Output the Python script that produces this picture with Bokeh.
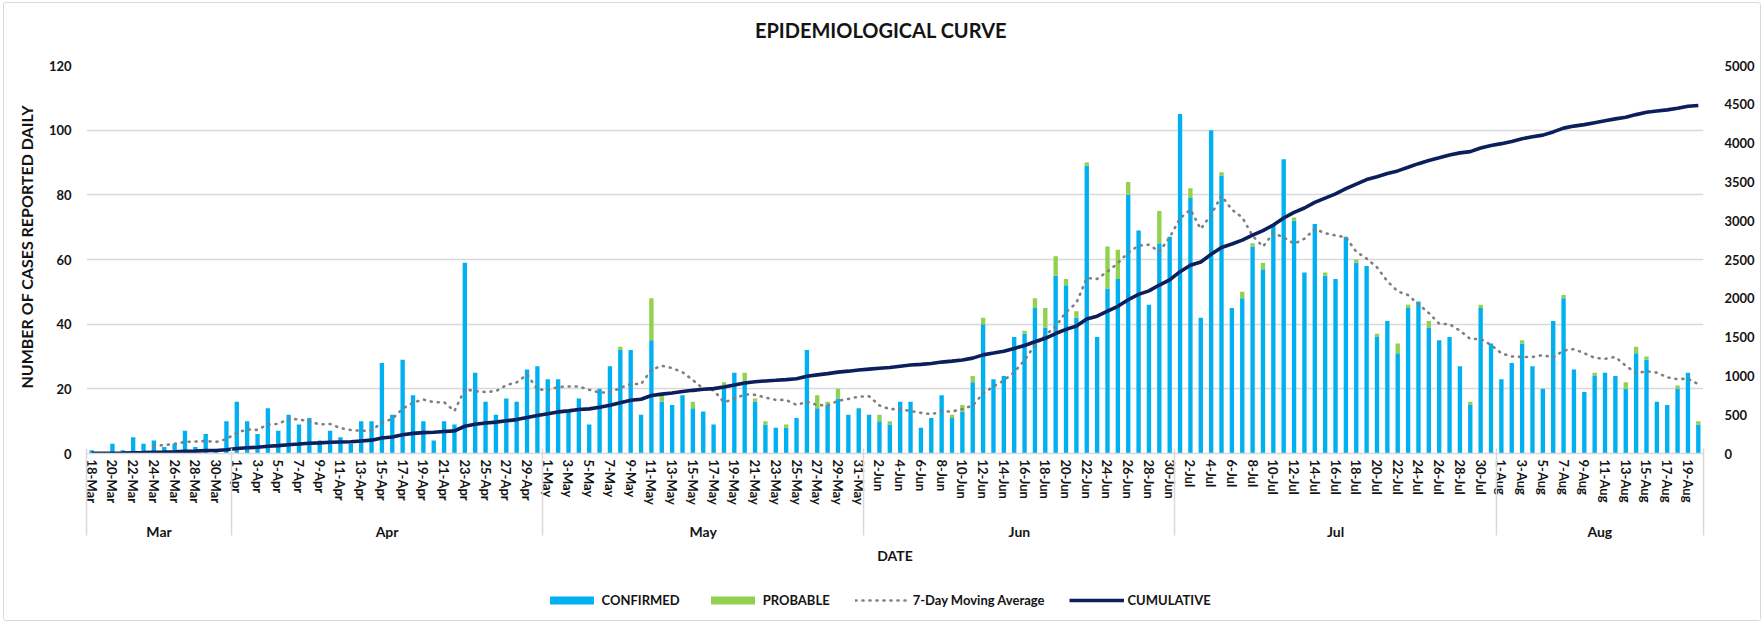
import numpy as np
import pandas as pd
from bokeh.plotting import figure
from bokeh.layouts import column
from bokeh.models import (ColumnDataSource, Range1d, LinearAxis, FixedTicker,
                          Legend, LegendItem, Label, Title)
from bokeh.embed import file_html
from bokeh.resources import INLINE

# ---------------- data ----------------
first_day = "2020-03-18"
last_day = "2020-08-20"
months = ["Mar", "Apr", "May", "Jun", "Jul", "Aug"]

confirmed = [
    1, 0, 3, 1, 5, 3, 4, 2, 3, 7, 2, 6, 1, 10,                       # 18-31 Mar
    16, 10, 6, 14, 7, 12, 9, 11, 4, 7, 5, 3, 10, 10, 28, 12, 29, 18,  # Apr
    10, 4, 10, 9, 59, 25, 16, 12, 17, 16, 26, 27,
    23, 23, 13, 17, 9, 20, 27, 32, 32, 12, 35, 16, 15, 18, 14, 13,    # May
    9, 21, 25, 22, 16, 9, 8, 8, 11, 32, 14, 15, 17, 12, 14,
    12, 10, 9, 16, 16, 8, 11, 18, 11, 13, 22, 40, 23, 24, 36, 37,     # Jun
    45, 39, 55, 52, 42, 89, 36, 51, 54, 80, 69, 46, 65, 67,
    105, 79, 42, 100, 86, 45, 48, 64, 57, 71, 91, 72, 56, 71, 55,     # Jul
    54, 67, 59, 58, 36, 41, 31, 45, 47, 39, 35, 36, 27, 15, 45, 34,
    23, 28, 34, 27, 20, 41, 48, 26, 19, 24, 25, 24, 20, 31, 29, 16,   # Aug
    15, 20, 25, 9,
]
probable = [
    0, 0, 0, 0, 0, 0, 0, 0, 0, 0, 0, 0, 0, 0,
    0, 0, 0, 0, 0, 0, 0, 0, 0, 0, 0, 0, 0, 0, 0, 0, 0, 0,
    0, 0, 0, 0, 0, 0, 0, 0, 0, 0, 0, 0,
    0, 0, 0, 0, 0, 0, 0, 1, 0, 0, 13, 2, 0, 0, 2, 0,
    0, 1, 0, 3, 1, 1, 0, 1, 0, 0, 4, 1, 3, 0, 0,
    0, 2, 1, 0, 0, 0, 0, 0, 1, 2, 2, 2, 0, 0, 0, 1,
    3, 6, 6, 2, 2, 1, 0, 13, 9, 4, 0, 0, 10, 0,
    0, 3, 0, 0, 1, 0, 2, 1, 2, 0, 0, 1, 0, 0, 1,
    0, 0, 1, 0, 1, 0, 3, 1, 0, 2, 0, 0, 0, 1, 1, 0,
    0, 0, 1, 0, 0, 0, 1, 0, 0, 1, 0, 0, 2, 2, 1, 0,
    0, 1, 0, 1,
]

# ---------------- derived ----------------
dates = pd.date_range(first_day, last_day, freq="D")
n = len(dates)
idx = np.arange(n)
total = np.array(confirmed) + np.array(probable)
ma7 = pd.Series(total, dtype=float).rolling(7).mean().to_numpy()
cumulative = np.cumsum(total)

day_labels = [f"{d.day}-{d.strftime('%b')}" for d in dates]
month_of = [d.strftime("%b") for d in dates]
month_start = [month_of.index(m) for m in months]
month_end = [n - 1 - month_of[::-1].index(m) for m in months]
month_centers = [(s + e) / 2 for s, e in zip(month_start, month_end)]
boundaries = [s - 0.5 for s in month_start] + [n - 0.5]

src = ColumnDataSource(dict(x=idx, confirmed=confirmed, probable=probable,
                            ma=ma7, cum=cumulative))

FONT = "Lato"
TXT = "#141414"
BLUE = "#00B0F0"
GREEN = "#92D050"
GRID = "#d9d9d9"
MA_COLOR = "#7f7f7f"
CUM_COLOR = "#0a1f5c"

# page geometry (chart-area border at x=3, y=2; content offset by margin+border)
OX, OY = 4, 3
CW = 1756            # content width
H0 = 40 - OY         # title strip   (page y 3 .. 40)
H1 = 540             # main chart    (page y 40 .. 580)
H2 = 40              # legend strip  (page y 580 .. 620)
FRAME_L, FRAME_R = 86 - OX, 1703 - OX   # in figure pixels
PAGE_FRAME_T, PAGE_FRAME_B = 65, 453


def strip(height):
    f = figure(width=CW, height=height, x_range=Range1d(0, 1), y_range=Range1d(0, 1),
               output_backend="svg", toolbar_location=None,
               x_axis_type=None, y_axis_type=None,
               min_border_left=FRAME_L, min_border_right=CW - FRAME_R,
               min_border_top=0, min_border_bottom=0)
    f.outline_line_color = None
    f.xgrid.visible = False
    f.ygrid.visible = False
    f.background_fill_color = "white"
    f.border_fill_color = "white"
    return f


# ---------------- title strip ----------------
tp = strip(H0)
tp.add_layout(Label(x=880.5 - 86, y=40 - 29, x_units="screen", y_units="screen",
                    text="EPIDEMIOLOGICAL CURVE", text_align="center",
                    text_baseline="middle", text_font=FONT, text_font_style="bold",
                    text_font_size="20px", text_color=TXT))

# ---------------- main chart ----------------
p = figure(width=CW, height=H1,
           x_range=Range1d(-0.5, n - 0.5), y_range=Range1d(0, 120),
           output_backend="svg", toolbar_location=None,
           min_border_left=FRAME_L, min_border_right=CW - FRAME_R,
           min_border_top=PAGE_FRAME_T - 40, min_border_bottom=580 - PAGE_FRAME_B)
p.extra_y_ranges = {"cum": Range1d(0, 5000)}

p.outline_line_color = None
p.background_fill_color = "white"
p.border_fill_color = "white"
p.xgrid.visible = False
p.ygrid.grid_line_color = GRID
p.ygrid.grid_line_width = 1.5

bars = p.vbar_stack(["confirmed", "probable"], x="x", width=0.42,
                    color=[BLUE, GREEN], line_width=0, source=src)
ma_line = p.line("x", "ma", source=src, line_color=MA_COLOR, line_width=2.6,
                 line_dash="1 6", line_cap="round")
cum_line = p.line("x", "cum", source=src, y_range_name="cum",
                  line_color=CUM_COLOR, line_width=3.6)

# left axis
yl = p.yaxis[0]
yl.ticker = FixedTicker(ticks=list(range(0, 121, 20)))
yl.major_label_text_font = FONT
yl.major_label_text_font_style = "bold"
yl.major_label_text_font_size = "13px"
yl.major_label_text_color = TXT
yl.major_label_standoff = 9
yl.axis_line_color = None
yl.major_tick_line_color = None
yl.minor_tick_line_color = None

# left axis title: text starts 65px above the frame bottom
p.add_layout(Title(text="NUMBER OF CASES REPORTED DAILY", align="left", offset=65,
                   vertical_align="middle", standoff=18, text_font=FONT,
                   text_font_style="bold", text_font_size="16px",
                   text_color=TXT), "left")

# right axis
yr = LinearAxis(y_range_name="cum", ticker=FixedTicker(ticks=list(range(0, 5001, 500))))
yr.major_label_text_font = FONT
yr.major_label_text_font_style = "bold"
yr.major_label_text_font_size = "13px"
yr.major_label_text_color = TXT
yr.major_label_standoff = 15
yr.axis_line_color = None
yr.major_tick_line_color = None
yr.minor_tick_line_color = None
p.add_layout(yr, "right")

# day axis
xa = p.xaxis[0]
even = list(range(0, n, 2))
xa.ticker = FixedTicker(ticks=even)
ov = {}
for i in even:
    ov[i] = day_labels[i]
xa.major_label_overrides = ov
xa.major_label_orientation = "vertical"
xa.major_label_text_font = FONT
xa.major_label_text_font_style = "bold"
xa.major_label_text_font_size = "13px"
xa.major_label_text_color = TXT
xa.major_label_standoff = 6
xa.major_tick_out = 0
xa.major_tick_in = 0
xa.major_tick_line_color = None
xa.minor_tick_line_color = None
xa.axis_line_color = GRID
xa.axis_line_width = 1.5

# month axis; month separators are its minor ticks (up through the day labels,
# down through the month names)
SEP_DOWN = 28
xm = LinearAxis(ticker=FixedTicker(ticks=month_centers, minor_ticks=boundaries))
mov = {}
for c, m in zip(month_centers, months):
    mov[float(c)] = m
xm.major_label_overrides = mov
xm.major_label_text_font = FONT
xm.major_label_text_font_style = "bold"
xm.major_label_text_font_size = "14px"
xm.major_label_text_color = TXT
xm.major_label_standoff = 15 - SEP_DOWN
xm.major_tick_out = 0
xm.major_tick_in = 0
xm.major_tick_line_color = None
xm.minor_tick_in = 59
xm.minor_tick_out = SEP_DOWN
xm.minor_tick_line_color = GRID
xm.minor_tick_line_width = 1.5
xm.axis_line_color = None
xm.axis_label = "DATE"
xm.axis_label_text_font = FONT
xm.axis_label_text_font_style = "bold"
xm.axis_label_text_font_size = "14px"
xm.axis_label_text_color = TXT
xm.axis_label_standoff = 4
p.add_layout(xm, "below")

# ---------------- legend strip ----------------
lg = strip(H2)
offscreen = ColumnDataSource(dict(x=[-50.0, -49.0], y=[-50.0, -50.0], top=[-50.0, -50.0]))
r_conf = lg.vbar(x="x", top="top", width=0.5, color=BLUE, line_width=0, source=offscreen)
r_prob = lg.vbar(x="x", top="top", width=0.5, color=GREEN, line_width=0, source=offscreen)
r_ma = lg.line(x="x", y="y", line_color=MA_COLOR, line_width=2.6,
               line_dash="1 6", line_cap="round", source=offscreen)
r_cum = lg.line(x="x", y="y", line_color=CUM_COLOR, line_width=3.6, source=offscreen)

legend = Legend(items=[
    LegendItem(label="CONFIRMED", renderers=[r_conf]),
    LegendItem(label="PROBABLE", renderers=[r_prob]),
    LegendItem(label="7-Day Moving Average", renderers=[r_ma]),
    LegendItem(label="CUMULATIVE", renderers=[r_cum]),
], orientation="horizontal", location=(543.5 - 86, 12),
    glyph_width=55, glyph_height=10, label_standoff=3, spacing=25,
    padding=4, margin=0, border_line_color=None, background_fill_alpha=0,
    label_text_font=FONT, label_text_font_style="bold",
    label_text_font_size="13px", label_text_color=TXT)
lg.add_layout(legend)

layout = column(tp, p, lg, spacing=0, margin=(2, 0, 0, 3),
                styles={"border": "1px solid #d9d9d9", "border-radius": "3px"})
open("out.html", "w").write(file_html(layout, INLINE))
